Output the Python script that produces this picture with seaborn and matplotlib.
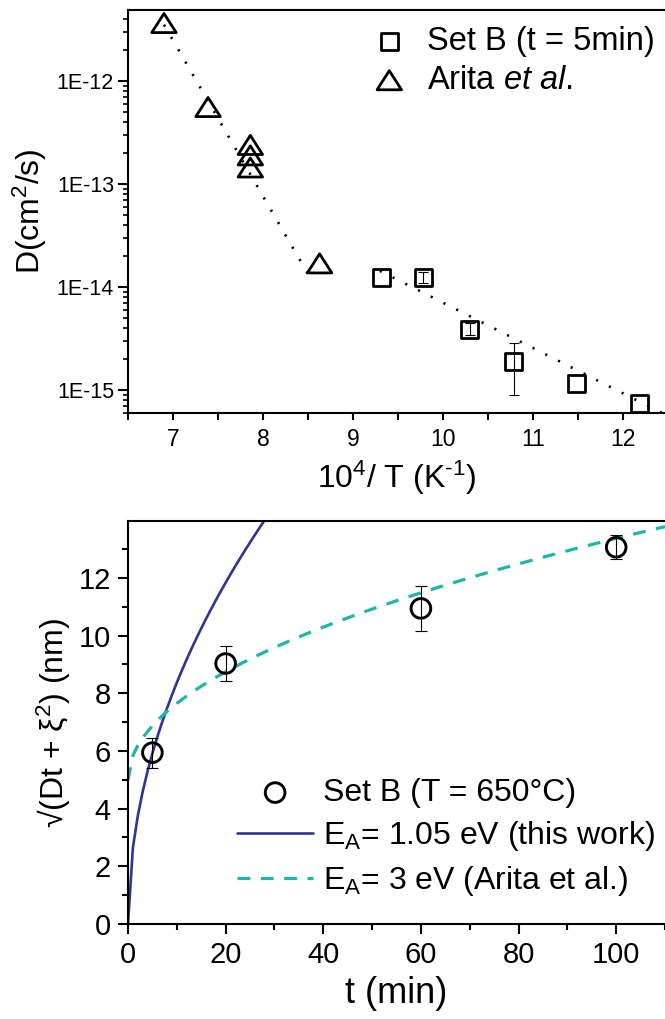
import numpy as np
import pandas as pd
import matplotlib
matplotlib.use("Agg")
import matplotlib.pyplot as plt
import seaborn as sns
from matplotlib.path import Path
from matplotlib.ticker import FixedLocator, MultipleLocator, NullFormatter, FuncFormatter

sns.set_style("ticks")
plt.rcParams["font.family"] = ["Liberation Sans", "DejaVu Sans"]
plt.rcParams["mathtext.fontset"] = "custom"
plt.rcParams["mathtext.rm"] = "Liberation Sans"
plt.rcParams["mathtext.it"] = "Liberation Sans:italic"
plt.rcParams["mathtext.sf"] = "Liberation Sans"
for key in ("text.color", "axes.labelcolor", "xtick.color", "ytick.color",
            "axes.edgecolor"):
    plt.rcParams[key] = "black"

# ---- Arrhenius data: D versus 10^4/T ----
setb_invT = [9.32, 9.78, 10.30, 10.79, 11.49, 12.19]
setb_D = [1.25e-14, 1.25e-14, 3.9e-15, 1.9e-15, 1.17e-15, 7.5e-16]
setb_D_lo = [np.nan, 1.1e-14, 3.4e-15, 8.9e-16, np.nan, np.nan]
setb_D_hi = [np.nan, 1.4e-14, 4.5e-15, 2.9e-15, np.nan, np.nan]

arita_invT = [6.90, 7.39, 7.86, 7.86, 7.86, 8.63]
arita_D = [3.66e-12, 5.6e-13, 2.4e-13, 1.9e-13, 1.45e-13, 1.7e-14]

# Arrhenius fits: activation energy (eV), log10 prefactor (cm^2/s), 10^4/T range
arita_fit_EA, arita_fit_logD0, arita_fit_range = 3.0, -1.02, (6.90, 8.56)
setb_fit_EA, setb_fit_logD0, setb_fit_range = 0.873, -9.75, (9.30, 12.50)

# ---- Interface width versus annealing time ----
t_min = [5, 20, 60, 100]
width_nm = [5.94, 9.03, 10.94, 13.06]
width_lo = [5.42, 8.44, 10.14, 12.64]
width_hi = [6.46, 9.62, 11.70, 13.47]

# diffusion models: D (nm^2/min), initial width xi (nm)
model_this_D, model_this_xi = 7.0, 0.0
model_arita_D, model_arita_xi = 0.70, 5.0

K_B = 8.617e-5  # eV/K


def arrhenius(inv_t, ea, log_d0):
    return 10 ** (log_d0 - ea * 1e-4 * inv_t / (K_B * np.log(10)))


def width_model(t, d, xi):
    return xi + np.sqrt(d * t)


W, H = 665, 1019
fig = plt.figure(figsize=(W / 100, H / 100), dpi=100)

ax1 = fig.add_axes([128 / W, 1 - 413 / H, (W - 128) / W, 403 / H])
ax2 = fig.add_axes([128 / W, 1 - 924 / H, (W - 128) / W, 403 / H])

# ---------------- top panel ----------------
fx1 = np.linspace(*arita_fit_range, 100)
fx2 = np.linspace(*setb_fit_range, 100)
dots = (0, (0.8, 4.6))
sns.lineplot(x=fx1, y=arrhenius(fx1, arita_fit_EA, arita_fit_logD0), ax=ax1,
             color="black", lw=1.9, linestyle=dots, legend=False)
sns.lineplot(x=fx2, y=arrhenius(fx2, setb_fit_EA, setb_fit_logD0), ax=ax1,
             color="black", lw=1.9, linestyle=dots, legend=False)

sd = np.array(setb_D)
ax1.errorbar(setb_invT, setb_D,
             yerr=[sd - np.array(setb_D_lo), np.array(setb_D_hi) - sd],
             fmt="none", ecolor="black", elinewidth=0.8, capsize=3.5,
             capthick=0.8, zorder=3)

tri = Path([(-1, -0.78), (1, -0.78), (0, 0.78), (-1, -0.78)], closed=True)
sns.scatterplot(x=setb_invT, y=setb_D, ax=ax1, marker="s", s=150,
                facecolor="none", edgecolor="black", linewidth=2.0,
                zorder=4, label="Set B (t = 5min)")
sns.scatterplot(x=arita_invT, y=arita_D, ax=ax1, marker=tri, s=310,
                facecolor="none", edgecolor="black", linewidth=2.0,
                zorder=4, label="Arita $\\mathit{et\\ al.}$")

ax1.set_yscale("log")
ax1.set_xlim(6.5, 12.47)
ax1.set_ylim(6.0e-16, 4.9e-12)
ax1.xaxis.set_major_locator(MultipleLocator(1))
ax1.xaxis.set_minor_locator(MultipleLocator(0.5))
ax1.yaxis.set_major_locator(FixedLocator([1e-15, 1e-14, 1e-13, 1e-12]))
minor_y = [m * 10.0 ** e for e in range(-16, -11) for m in range(2, 10)]
ax1.yaxis.set_minor_locator(FixedLocator(minor_y))
ax1.yaxis.set_minor_formatter(NullFormatter())
ax1.yaxis.set_major_formatter(FuncFormatter(lambda v, p: "1E%d" % round(np.log10(v))))
ax1.tick_params(axis="x", which="major", direction="out", length=5, width=1.5,
                labelsize=16.5, pad=6)
ax1.tick_params(axis="x", which="minor", direction="out", length=5, width=1.5)
ax1.tick_params(axis="y", which="major", direction="out", length=7, width=1.5,
                labelsize=15.5, pad=3)
ax1.tick_params(axis="y", which="minor", direction="out", length=3.5, width=1.2)
ax1.set_xlabel("10$^4$/ T (K$^{\\text{-}1}$)", fontsize=23, labelpad=5)
ax1.set_ylabel("D(cm$^2$/s)", fontsize=23, labelpad=6)
ax1.legend(loc="upper right", bbox_to_anchor=(1.011, 1.0), frameon=False,
           fontsize=23.5, handletextpad=0.55, labelspacing=0.23,
           borderaxespad=0.1, handlelength=1.2, scatterpoints=1)

# ---------------- bottom panel ----------------
t_grid = np.arange(0, 111, 1.0)
navy = "#2E3592"
teal = "#1DB5AC"
sns.lineplot(x=t_grid, y=width_model(t_grid, model_this_D, model_this_xi), ax=ax2,
             color=navy, lw=1.9, label="E$_{\\mathrm{A}}$= 1.05 eV (this work)")
sns.lineplot(x=t_grid, y=width_model(t_grid, model_arita_D, model_arita_xi), ax=ax2,
             color=teal, lw=2.3, linestyle=(0, (4.0, 3.3)),
             label="E$_{\\mathrm{A}}$= 3 eV (Arita et al.)")
wn = np.array(width_nm)
ax2.errorbar(t_min, width_nm,
             yerr=[wn - np.array(width_lo), np.array(width_hi) - wn],
             fmt="none", ecolor="black", elinewidth=0.8, capsize=4.5,
             capthick=0.8, zorder=3)
sns.scatterplot(x=t_min, y=width_nm, ax=ax2, marker="o", s=200,
                facecolor="none", edgecolor="black", linewidth=2.1,
                zorder=4, label="Set B (T = 650\u00b0C)")

ax2.set_xlim(0, 110)
ax2.set_ylim(0, 13.97)
ax2.xaxis.set_major_locator(MultipleLocator(20))
ax2.xaxis.set_minor_locator(MultipleLocator(10))
ax2.yaxis.set_major_locator(MultipleLocator(2))
ax2.yaxis.set_minor_locator(MultipleLocator(1))
ax2.tick_params(which="major", direction="out", length=7.5, width=1.5,
                labelsize=21, pad=5)
ax2.tick_params(which="minor", direction="out", length=4, width=1.5)
ax2.set_xlabel("t (min)", fontsize=26, labelpad=5)
ax2.set_ylabel("\u221a(Dt + \u03be$^2$) (nm)", fontsize=23, labelpad=4)

h, l = ax2.get_legend_handles_labels()
order = [2, 0, 1]
ax2.legend([h[i] for i in order], [l[i] for i in order], loc="lower right",
           bbox_to_anchor=(1.005, 0.032), frameon=False, fontsize=23,
           handletextpad=0.3, labelspacing=0.35, borderaxespad=0.0,
           handlelength=2.4, scatterpoints=1)

for ax in (ax1, ax2):
    ax.spines["right"].set_visible(False)
    for side in ("left", "bottom", "top"):
        ax.spines[side].set_linewidth(1.5)
        ax.spines[side].set_color("black")
    ax.tick_params(top=False, right=False, colors="black")

fig.savefig("out.png", dpi=100)
